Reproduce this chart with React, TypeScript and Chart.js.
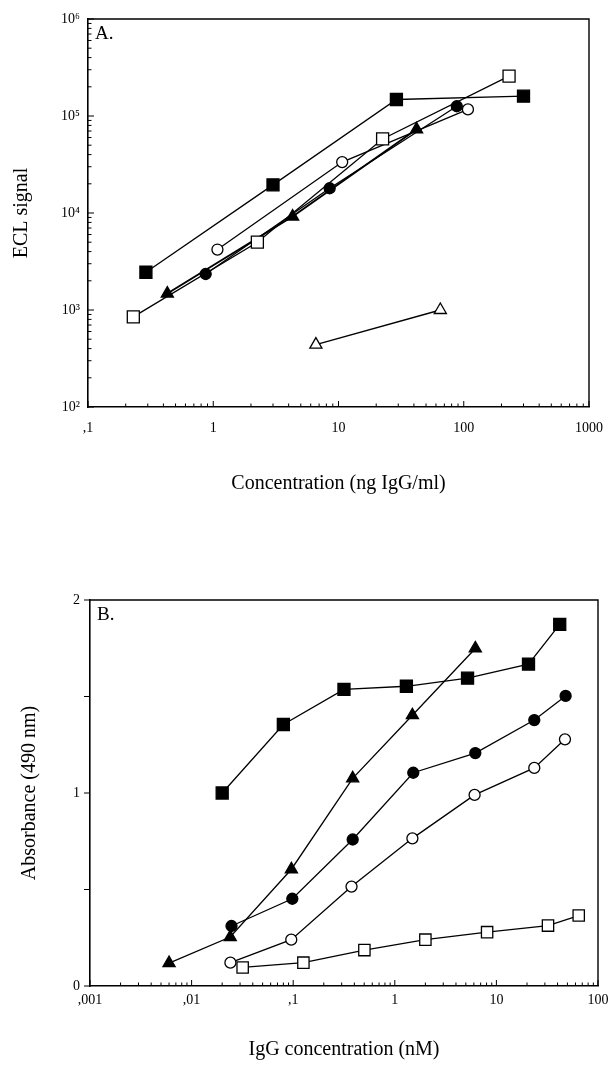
import React, { useEffect, useRef } from "react";
import { Chart, registerables } from "chart.js";
Chart.register(...registerables);

const FONT = "'Liberation Serif', 'DejaVu Serif', serif";

// ---------- Panel A (ECL signal vs concentration, log-log) ----------
const aFilledSqX = [0.29, 3.0, 29, 300];
const aFilledSqY = [2450, 19500, 148000, 160000];
const aOpenSqX = [0.23, 2.25, 22.5, 230];
const aOpenSqY = [850, 5000, 58000, 258000];
const aOpenCircX = [1.08, 10.7, 108];
const aOpenCircY = [4200, 33500, 117000];
const aFilledCircX = [0.87, 8.5, 88];
const aFilledCircY = [2350, 18000, 126000];
const aFilledTriX = [0.43, 4.3, 42];
const aFilledTriY = [1480, 9200, 73000];
const aOpenTriX = [6.6, 65];
const aOpenTriY = [440, 1000];
const aXTickValues = [0.1, 1, 10, 100, 1000];
const aXTickLabels = [",1", "1", "10", "100", "1000"];
const aYTickValues = [100, 1000, 10000, 100000, 1000000];
const aYTickLabels = ["10²", "10³", "10⁴", "10⁵", "10⁶"];

// ---------- Panel B (Absorbance vs IgG concentration) ----------
const bFilledSqX = [0.02, 0.08, 0.316, 1.3, 5.2, 20.7, 42];
const bFilledSqY = [1.0, 1.355, 1.537, 1.553, 1.595, 1.668, 1.874];
const bFilledTriX = [0.006, 0.024, 0.096, 0.385, 1.49, 6.2];
const bFilledTriY = [0.119, 0.254, 0.605, 1.076, 1.403, 1.749];
const bFilledCircX = [0.0247, 0.098, 0.385, 1.52, 6.2, 23.6, 48];
const bFilledCircY = [0.311, 0.452, 0.759, 1.105, 1.207, 1.378, 1.503];
const bOpenCircX = [0.0241, 0.0957, 0.375, 1.49, 6.1, 23.6, 47.3];
const bOpenCircY = [0.121, 0.24, 0.515, 0.765, 0.99, 1.13, 1.278];
const bOpenSqX = [0.0318, 0.126, 0.502, 2.0, 8.1, 32.2, 64.6];
const bOpenSqY = [0.096, 0.121, 0.186, 0.24, 0.279, 0.313, 0.365];
const bXTickValues = [0.001, 0.01, 0.1, 1, 10, 100];
const bXTickLabels = [",001", ",01", ",1", "1", "10", "100"];
const bYTickValues = [0, 1, 2];
const bYTickLabels = ["0", "1", "2"];

function labelFor(values: number[], labels: string[], v: number, log: boolean) {
  for (let i = 0; i < values.length; i++) {
    const ok = log
      ? Math.abs(Math.log10(v) - Math.log10(values[i])) < 1e-6
      : Math.abs(v - values[i]) < 1e-6;
    if (ok) return labels[i];
  }
  return "";
}

function logMarks(min: number, max: number) {
  const out: { v: number; major: boolean }[] = [];
  for (let e = Math.floor(Math.log10(min)); e <= Math.ceil(Math.log10(max)); e++) {
    for (let m = 1; m <= 9; m++) {
      const v = m * Math.pow(10, e);
      if (v >= min * 0.999 && v <= max * 1.001) out.push({ v, major: m === 1 });
    }
  }
  return out;
}

function ds(xs: number[], ys: number[], style: string, filled: boolean, radius: number, lw = 1.3) {
  return {
    data: xs.map((x, i) => ({ x, y: ys[i] })),
    borderColor: "#000",
    borderWidth: lw,
    pointStyle: style,
    pointRadius: radius,
    pointBackgroundColor: filled ? "#000" : "#fff",
    pointBorderColor: "#000",
    pointBorderWidth: 1.3,
    showLine: true,
    tension: 0,
    fill: false,
    clip: false as any,
  };
}

function framePlugin(label: string, xMarks: any[], yMarks: any[], yInward: boolean) {
  return {
    id: "frame" + label,
    afterDraw(chart: any) {
      const { ctx, chartArea: a, scales } = chart;
      ctx.save();
      ctx.strokeStyle = "#000";
      ctx.lineWidth = 1.4;
      ctx.beginPath();
      ctx.moveTo(a.left, a.top);
      ctx.lineTo(a.right, a.top);
      ctx.lineTo(a.right, a.bottom);
      ctx.stroke();
      ctx.lineWidth = 1;
      for (const t of xMarks) {
        const px = scales.x.getPixelForValue(t.v);
        const len = t.major ? 6 : 3.5;
        ctx.beginPath();
        ctx.moveTo(px, a.bottom);
        ctx.lineTo(px, a.bottom - len);
        ctx.stroke();
      }
      for (const t of yMarks) {
        const py = scales.y.getPixelForValue(t.v);
        const len = t.major ? 6 : 3.5;
        const dir = yInward ? 1 : -1;
        ctx.beginPath();
        ctx.moveTo(a.left, py);
        ctx.lineTo(a.left + dir * len, py);
        ctx.stroke();
      }
      ctx.font = `19px ${FONT}`;
      ctx.fillStyle = "#000";
      ctx.textBaseline = "top";
      ctx.textAlign = "left";
      ctx.fillText(label, a.left + 7, a.top + 6);
      ctx.restore();
    },
  };
}

function axisCommon() {
  return {
    grid: { display: false, drawTicks: false },
    border: { display: true, color: "#000", width: 1.6 },
  };
}

function ChartA() {
  const ref = useRef<HTMLCanvasElement>(null);
  useEffect(() => {
    const chart = new Chart(ref.current as HTMLCanvasElement, {
      type: "line",
      data: {
        datasets: [
          ds(aFilledSqX, aFilledSqY, "rect", true, 8.5),
          ds(aOpenSqX, aOpenSqY, "rect", false, 8.5),
          ds(aOpenCircX, aOpenCircY, "circle", false, 5.5),
          ds(aFilledCircX, aFilledCircY, "circle", true, 5.5),
          ds(aFilledTriX, aFilledTriY, "triangle", true, 7, 2),
          ds(aOpenTriX, aOpenTriY, "triangle", false, 7),
        ] as any,
      },
      options: {
        animation: false,
        responsive: false,
        devicePixelRatio: 1,
        layout: { padding: { left: 0, top: 19, right: 19, bottom: 24 } },
        plugins: { legend: { display: false }, tooltip: { enabled: false } },
        scales: {
          x: {
            type: "logarithmic",
            min: 0.1,
            max: 1000,
            ...axisCommon(),
            ticks: {
              autoSkip: false,
              maxRotation: 0,
              minRotation: 0,
              padding: 13,
              color: "#000",
              font: { family: FONT, size: 14 },
              callback: (v: any) => labelFor(aXTickValues, aXTickLabels, Number(v), true),
            },
            title: {
              display: true,
              text: "Concentration (ng IgG/ml)",
              color: "#000",
              font: { family: FONT, size: 20 },
              padding: { top: 0, bottom: 0 },
            },
            afterFit: (s: any) => {
              s.height = 89;
            },
          },
          y: {
            type: "logarithmic",
            min: 100,
            max: 1000000,
            ...axisCommon(),
            ticks: {
              autoSkip: false,
              padding: 8,
              color: "#000",
              font: { family: FONT, size: 14 },
              callback: (v: any) => labelFor(aYTickValues, aYTickLabels, Number(v), true),
            },
            title: {
              display: true,
              text: "ECL signal",
              color: "#000",
              font: { family: FONT, size: 20 },
              padding: { top: 10, bottom: 0 },
            },
            afterFit: (s: any) => {
              s.width = 88;
            },
          },
        },
      } as any,
      plugins: [framePlugin("A.", logMarks(0.1, 1000), logMarks(100, 1000000), true)],
    });
    return () => chart.destroy();
  }, []);
  return (
    <canvas
      ref={ref}
      width={616}
      height={520}
      style={{ position: "absolute", left: 0, top: 0, width: 616, height: 520, display: "block" }}
    />
  );
}

function ChartB() {
  const ref = useRef<HTMLCanvasElement>(null);
  useEffect(() => {
    const yMarks = [0, 0.5, 1, 1.5, 2].map((v) => ({ v, major: true }));
    const chart = new Chart(ref.current as HTMLCanvasElement, {
      type: "line",
      data: {
        datasets: [
          ds(bFilledSqX, bFilledSqY, "rect", true, 8.5),
          ds(bFilledTriX, bFilledTriY, "triangle", true, 7),
          ds(bFilledCircX, bFilledCircY, "circle", true, 5.5),
          ds(bOpenCircX, bOpenCircY, "circle", false, 5.5),
          ds(bOpenSqX, bOpenSqY, "rect", false, 8),
        ] as any,
      },
      options: {
        animation: false,
        responsive: false,
        devicePixelRatio: 1,
        layout: { padding: { left: 0, top: 80, right: 18, bottom: 3 } },
        plugins: { legend: { display: false }, tooltip: { enabled: false } },
        scales: {
          x: {
            type: "logarithmic",
            min: 0.001,
            max: 100,
            ...axisCommon(),
            ticks: {
              autoSkip: false,
              maxRotation: 0,
              minRotation: 0,
              padding: 6,
              color: "#000",
              font: { family: FONT, size: 14 },
              callback: (v: any) => labelFor(bXTickValues, bXTickLabels, Number(v), true),
            },
            title: {
              display: true,
              text: "IgG concentration (nM)",
              color: "#000",
              font: { family: FONT, size: 20 },
              padding: { top: 0, bottom: 0 },
            },
            afterFit: (s: any) => {
              s.height = 76;
            },
          },
          y: {
            type: "linear",
            min: 0,
            max: 2,
            ...axisCommon(),
            ticks: {
              stepSize: 0.5,
              autoSkip: false,
              padding: 10,
              color: "#000",
              font: { family: FONT, size: 14 },
              callback: (v: any) => labelFor(bYTickValues, bYTickLabels, Number(v), false),
            },
            title: {
              display: true,
              text: "Absorbance (490 nm)",
              color: "#000",
              font: { family: FONT, size: 20 },
              padding: { top: 18, bottom: 0 },
            },
            afterFit: (s: any) => {
              s.width = 90;
            },
          },
        },
      } as any,
      plugins: [framePlugin("B.", logMarks(0.001, 100), yMarks, false)],
    });
    return () => chart.destroy();
  }, []);
  return (
    <canvas
      ref={ref}
      width={616}
      height={545}
      style={{ position: "absolute", left: 0, top: 520, width: 616, height: 545, display: "block" }}
    />
  );
}

export default function App() {
  return (
    <div style={{ position: "absolute", left: 0, top: 0, width: 616, height: 1065, background: "#fff" }}>
      <ChartA />
      <ChartB />
    </div>
  );
}
